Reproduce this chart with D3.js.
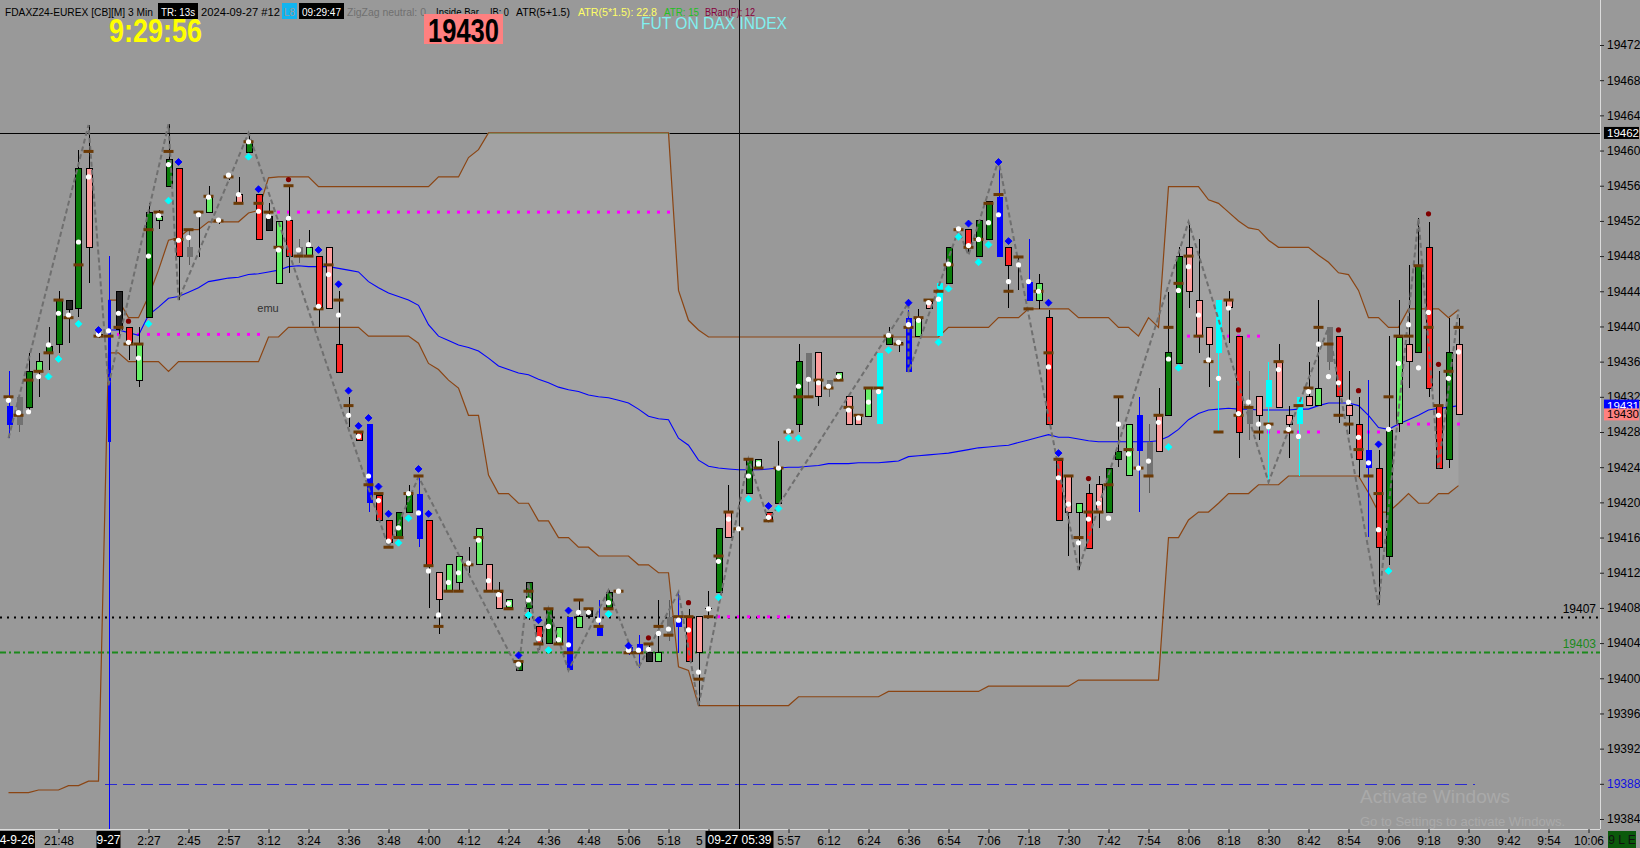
<!DOCTYPE html>
<html><head><meta charset="utf-8">
<script src="https://cdn.jsdelivr.net/npm/d3@7"></script>
<style>html,body{margin:0;padding:0;background:#999;overflow:hidden}svg{display:block}text{font-family:"Liberation Sans",Arial,sans-serif}</style>
</head><body><svg id="c" width="1640" height="848"></svg>
<script>
// ---- DATA ----
// bar kinds: U strong up, u weak up, D strong down, d weak down, k dark neutral, g gray neutral, b blue signal, c cyan signal, x doji
const kinds = "bgUuUUkUdx"+"bkDuUuUDgx"+"uxxdUDkuDg"+"uDdDxDbDDU"+"UbDduuxudd"+"uUUDUubukb"+"UxbbkugbDd"+"xUdxUuDUxU"+"gdgudducUx"+"budcUxDUUb"+"DxbuDDduDd"+"UUubgdUUdd"+"dcdDgdcddc"+"dugDdDbDUu"+"dUDDUd";
const opens = [19431.0,19432.0,19430.8,19434.9,19437.0,19438.0,19443.0,19442.0,19458.0,19439.1,
19443.0,19444.0,19439.9,19433.9,19441.0,19452.0,19455.9,19458.0,19449.0,19453.0,
19453.0,19452.0,19457.0,19455.0,19459.8,19455.0,19452.5,19444.9,19452.1,19449.0,
19448.1,19447.9,19449.0,19438.0,19431.0,19427.9,19428.9,19420.8,19417.9,19416.0,
19418.9,19421.0,19417.9,19412.0,19410.0,19410.9,19412.9,19412.9,19412.9,19409.8,
19408.1,19400.9,19407.9,19405.9,19403.9,19404.0,19407.0,19405.8,19407.8,19405.8,
19408.0,19409.9,19403.6,19403.9,19402.9,19401.9,19407.0,19406.9,19407.0,19407.0,
19408.0,19409.8,19418.9,19417.0,19421.0,19423.9,19418.8,19419.9,19428.0,19428.8,
19437.0,19437.0,19433.9,19433.9,19432.0,19429.7,19429.8,19428.9,19438.0,19438.2,
19441.0,19438.9,19442.8,19438.9,19444.9,19451.0,19451.0,19447.9,19449.9,19454.7,
19449.0,19447.9,19445.1,19442.9,19441.0,19424.8,19423.0,19418.9,19421.0,19422.0,
19418.9,19424.9,19423.0,19429.9,19426.9,19429.9,19429.9,19435.8,19449.0,19443.0,
19439.9,19437.0,19443.0,19438.9,19430.8,19432.0,19430.8,19436.0,19429.9,19428.9,
19432.0,19431.0,19439.9,19438.9,19431.0,19428.9,19426.0,19423.9,19413.9,19429.0,
19438.0,19437.0,19449.0,19431.0,19424.9,19438.0];
const highs = [19434.9,19432.0,19437.0,19437.0,19439.9,19444.0,19443.0,19460.1,19462.9,19439.6,
19448.0,19444.0,19439.9,19439.9,19454.0,19453.2,19463.0,19458.0,19451.0,19453.0,
19456.0,19452.2,19457.2,19457.0,19462.0,19455.0,19454.0,19451.9,19456.0,19449.9,
19451.0,19447.9,19449.0,19444.0,19432.0,19427.9,19428.9,19420.8,19417.9,19418.9,
19422.0,19422.9,19417.9,19412.0,19412.9,19413.9,19414.9,19417.0,19412.9,19410.9,
19408.9,19401.9,19410.9,19405.9,19407.9,19405.8,19407.0,19408.9,19407.8,19408.9,
19410.0,19410.2,19403.8,19404.9,19403.9,19408.9,19408.9,19409.8,19407.9,19407.0,
19409.9,19417.0,19422.0,19417.2,19424.9,19424.9,19418.8,19427.0,19428.2,19438.0,
19437.0,19437.0,19433.9,19434.8,19432.0,19429.7,19433.0,19437.0,19439.9,19438.2,
19441.9,19442.0,19443.0,19444.9,19449.0,19451.2,19451.0,19452.0,19454.2,19458.0,
19449.0,19447.9,19449.9,19446.0,19441.9,19424.8,19423.0,19419.9,19422.1,19423.0,
19423.9,19432.0,19428.9,19432.0,19428.9,19433.0,19443.9,19449.0,19451.5,19449.9,
19439.9,19443.0,19444.0,19438.9,19434.9,19432.0,19436.0,19438.0,19431.0,19432.0,
19436.0,19443.0,19439.9,19438.9,19434.9,19432.0,19433.9,19426.0,19438.9,19443.0,
19447.0,19452.3,19451.9,19434.9,19441.0,19441.0];
const lows = [19427.3,19428.0,19430.5,19432.0,19435.1,19437.0,19438.1,19441.1,19444.9,19438.7,
19382.6,19438.9,19436.2,19433.1,19441.0,19451.1,19455.9,19443.0,19447.0,19447.9,
19453.0,19451.7,19456.7,19454.0,19459.8,19449.9,19450.9,19444.9,19446.1,19447.2,
19448.0,19439.9,19442.0,19434.8,19428.6,19427.0,19418.9,19417.9,19414.9,19416.0,
19418.9,19414.9,19408.0,19405.0,19410.0,19409.8,19412.0,19412.9,19410.0,19407.9,
19408.1,19400.9,19406.6,19403.2,19403.9,19404.0,19400.9,19405.8,19407.0,19404.8,
19408.0,19409.7,19402.6,19401.2,19401.9,19401.9,19404.2,19402.9,19401.9,19396.9,
19407.0,19409.8,19416.0,19416.7,19421.0,19423.9,19417.9,19419.9,19427.8,19428.0,
19432.0,19431.0,19432.0,19433.9,19428.9,19428.9,19429.8,19428.9,19438.0,19437.1,
19434.8,19438.9,19442.0,19438.9,19444.9,19450.7,19448.4,19447.9,19449.9,19447.9,
19442.1,19444.1,19442.9,19442.0,19428.9,19417.9,19413.9,19412.3,19414.8,19417.1,
19418.9,19424.0,19423.0,19418.9,19421.1,19425.8,19429.9,19435.8,19442.1,19437.0,
19433.1,19428.0,19438.1,19425.0,19427.1,19427.1,19422.3,19430.8,19425.0,19423.0,
19431.0,19431.0,19435.1,19429.0,19427.8,19422.9,19416.1,19408.3,19412.9,19428.0,
19433.0,19437.0,19432.0,19423.9,19423.9,19429.9];
const closes = [19428.8,19428.8,19434.9,19436.0,19437.7,19443.0,19441.9,19458.0,19449.0,19439.0,
19426.9,19439.6,19438.2,19437.9,19453.0,19452.5,19459.0,19447.9,19447.9,19452.9,
19454.7,19451.9,19456.9,19454.0,19461.0,19449.9,19450.9,19451.9,19447.9,19448.1,
19449.0,19442.1,19442.0,19434.8,19430.8,19427.0,19419.9,19417.9,19415.4,19418.9,
19421.1,19415.8,19412.8,19408.9,19412.9,19413.9,19412.8,19417.0,19410.0,19407.9,
19408.9,19401.9,19410.9,19403.9,19407.9,19405.8,19400.9,19407.0,19407.0,19404.8,
19409.8,19409.8,19402.9,19402.9,19401.9,19402.9,19404.9,19405.8,19401.9,19402.9,
19407.9,19417.0,19416.0,19416.9,19424.9,19424.9,19417.9,19423.9,19427.9,19436.0,
19433.9,19432.0,19433.0,19434.8,19428.9,19428.9,19433.0,19437.0,19438.8,19438.1,
19434.8,19441.0,19442.0,19444.9,19449.0,19450.9,19449.0,19452.0,19454.2,19447.9,
19446.9,19447.8,19442.9,19444.9,19428.9,19417.9,19418.9,19419.9,19414.8,19418.9,
19423.9,19425.8,19428.9,19425.8,19423.0,19425.8,19437.0,19448.0,19444.0,19438.9,
19438.0,19443.0,19442.2,19428.0,19428.9,19429.9,19433.9,19430.8,19428.9,19432.0,
19431.0,19433.0,19436.0,19432.0,19429.9,19424.9,19423.9,19414.9,19428.2,19438.8,
19436.0,19446.8,19433.0,19423.9,19437.0,19430.0];
const levelMarks = [19432.0,19429.9,19433.9,19434.9,19437.0,19443.0,19441.0,19447.0,19459.9,19438.9,
19438.9,19439.9,19438.0,19438.0,19451.0,19453.0,19459.9,19449.9,19451.0,19453.0,
19454.8,19452.0,19457.0,19454.0,19461.0,19454.0,19453.0,19449.0,19456.0,19448.0,
19448.0,19442.0,19447.0,19443.0,19431.0,19428.0,19422.0,19421.0,19414.9,19416.0,
19421.0,19423.0,19412.8,19405.9,19409.9,19409.9,19412.9,19416.0,19409.9,19409.9,
19407.9,19401.9,19409.9,19403.9,19407.9,19403.9,19402.9,19408.9,19407.9,19405.9,
19407.9,19409.9,19402.9,19402.9,19403.9,19405.9,19404.9,19407.0,19407.0,19399.9,
19407.0,19413.9,19418.9,19417.0,19424.9,19423.9,19417.9,19423.9,19428.0,19432.0,
19432.0,19433.9,19433.0,19433.9,19430.8,19429.9,19433.0,19433.0,19438.9,19438.0,
19439.9,19441.0,19443.0,19444.0,19447.0,19451.0,19449.0,19449.9,19454.0,19455.0,
19444.0,19447.9,19442.0,19444.0,19437.0,19424.9,19423.0,19416.0,19418.9,19418.9,
19422.0,19432.0,19426.0,19423.9,19423.0,19429.9,19439.9,19444.9,19448.0,19438.9,
19436.0,19428.0,19443.0,19429.9,19430.8,19428.0,19428.9,19436.0,19428.0,19431.0,
19433.0,19439.9,19438.0,19429.9,19428.9,19426.0,19423.0,19421.0,19432.0,19438.9,
19438.9,19446.9,19439.9,19431.0,19434.9,19439.9];
const whiteMarks = [19431.6,19430.2,19430.3,19434.3,19437.9,19441.5,19441.3,19449.6,19457.0,19439.1,
19439.5,19441.5,19438.2,19436.4,19448.0,19452.6,19458.4,19449.8,19450.1,19452.7,
19454.7,19452.1,19457.2,19455.0,19461.0,19453.1,19452.5,19448.7,19452.3,19448.7,
19449.3,19442.3,19445.9,19441.3,19429.9,19427.5,19423.0,19420.2,19415.6,19417.1,
19421.0,19418.8,19412.2,19407.2,19410.9,19412.0,19413.1,19415.7,19411.1,19409.5,
19408.5,19401.6,19408.9,19404.5,19405.9,19404.4,19403.8,19407.5,19407.5,19406.6,
19408.6,19409.9,19403.2,19403.2,19403.3,19405.1,19405.6,19406.6,19405.5,19400.7,
19407.9,19413.3,19418.1,19417.0,19423.0,19424.4,19418.3,19423.9,19428.1,19433.2,
19434.0,19433.6,19433.2,19434.3,19430.5,19429.6,19431.4,19432.6,19439.0,19438.2,
19440.2,19440.7,19442.7,19443.1,19447.1,19451.1,19449.2,19449.9,19451.8,19452.7,
19445.1,19447.0,19445.1,19444.0,19435.4,19422.8,19419.8,19415.4,19418.1,19419.9,
19418.2,19428.9,19425.5,19423.9,19424.7,19429.1,19436.3,19444.1,19446.8,19441.3,
19436.2,19434.1,19442.1,19430.1,19431.4,19428.9,19428.6,19435.1,19428.3,19427.5,
19432.6,19438.0,19434.3,19433.6,19431.4,19427.4,19424.5,19416.9,19428.3,19435.8,
19440.2,19435.3,19441.6,19429.9,19434.1,19437.1];
const ema = [null,null,null,null,null,null,null,null,null,null,
19439.6,19439.6,19439.3,19439.0,19441.3,19442.2,19443.2,19443.4,19443.9,19444.4,
19445.1,19445.3,19445.5,19445.6,19445.9,19446.0,19446.2,19446.4,19446.8,19446.9,
19446.8,19446.8,19446.8,19446.6,19446.4,19446.2,19445.1,19444.4,19443.8,19443.4,
19443.0,19442.4,19440.2,19438.9,19438.4,19437.9,19437.6,19437.2,19436.4,19435.5,
19435.1,19434.7,19434.5,19434.0,19433.6,19433.1,19432.8,19432.6,19432.2,19432.0,
19431.9,19431.6,19431.3,19430.6,19429.8,19429.5,19429.4,19427.3,19426.5,19424.8,
19424.1,19423.9,19423.8,19423.7,19423.7,19423.7,19423.8,19423.9,19424.0,19424.0,
19424.1,19424.2,19424.4,19424.4,19424.4,19424.5,19424.5,19424.5,19424.6,19424.7,
19425.2,19425.3,19425.4,19425.5,19425.6,19425.8,19426.0,19426.2,19426.3,19426.4,
19426.5,19426.8,19427.1,19427.4,19427.7,19427.4,19427.4,19427.2,19427.0,19426.9,
19426.9,19426.9,19426.9,19426.9,19426.9,19427.0,19427.5,19428.3,19429.4,19430.1,
19430.5,19430.6,19430.7,19430.6,19430.6,19430.5,19430.5,19430.5,19430.5,19430.6,
19430.6,19431.0,19431.3,19431.3,19431.3,19431.0,19429.9,19428.5,19428.3,19428.9,
19429.4,19429.9,19430.5,19430.7,19430.8,19431.0];
const upperBand = [null,null,null,null,null,null,null,null,null,null,
19443.0,19443.0,19441.0,19441.0,19443.4,19446.4,19449.8,19450.1,19451.0,19451.0,
19451.9,19451.9,19451.9,19451.9,19452.9,19453.2,19456.9,19457.0,19457.0,19457.0,
19457.0,19455.9,19455.9,19455.9,19455.9,19455.9,19455.9,19455.9,19455.9,19455.9,
19455.9,19455.9,19455.9,19457.0,19457.0,19457.0,19459.2,19460.1,19462.0,19462.0,
19462.0,19462.0,19462.0,19462.0,19462.0,19462.0,19462.0,19462.0,19462.0,19462.0,
19462.0,19462.0,19462.0,19462.0,19462.0,19462.0,19462.0,19444.1,19440.7,19439.6,
19438.8,19438.8,19438.8,19438.8,19438.8,19438.8,19438.8,19438.8,19438.8,19438.8,
19438.8,19438.8,19438.8,19438.8,19438.8,19438.8,19438.8,19438.8,19438.8,19438.8,
19438.8,19438.8,19438.8,19438.8,19439.9,19439.9,19439.9,19439.9,19439.9,19441.0,
19441.0,19441.0,19442.0,19442.0,19442.0,19442.0,19442.0,19441.0,19441.0,19441.0,
19441.0,19439.9,19439.9,19438.9,19441.0,19439.9,19455.9,19455.9,19455.9,19455.9,
19454.4,19454.0,19453.0,19452.0,19451.2,19451.0,19449.8,19449.0,19449.0,19449.0,
19449.0,19448.1,19447.3,19446.1,19445.9,19444.1,19441.0,19441.0,19439.9,19439.9,
19442.0,19442.0,19442.0,19442.0,19441.0,19441.9];
const lowerBand = [19387.0,19387.0,19387.0,19387.3,19387.3,19387.3,19387.8,19387.8,19388.3,19388.3,
19437.0,19437.0,19436.0,19436.0,19436.0,19436.0,19434.9,19436.0,19436.0,19436.0,
19436.0,19436.0,19436.0,19436.0,19436.0,19436.0,19438.8,19438.8,19439.9,19439.9,
19439.9,19439.9,19439.9,19439.9,19439.9,19439.9,19438.9,19438.9,19438.9,19438.9,
19438.9,19438.1,19435.8,19435.1,19433.9,19433.0,19429.9,19429.9,19423.1,19421.0,
19421.0,19419.9,19419.9,19417.9,19417.9,19416.0,19416.0,19414.9,19414.9,19413.9,
19413.9,19413.9,19413.9,19412.9,19412.9,19412.0,19412.0,19401.3,19400.9,19396.9,
19396.9,19396.9,19396.9,19396.9,19396.9,19396.9,19396.9,19396.9,19396.9,19397.9,
19397.9,19397.9,19397.9,19397.9,19397.9,19397.9,19397.9,19397.9,19398.5,19398.5,
19398.5,19398.5,19398.5,19398.5,19398.5,19398.5,19398.5,19398.5,19399.1,19399.1,
19399.1,19399.1,19399.1,19399.1,19399.1,19399.1,19399.1,19399.8,19399.8,19399.8,
19399.8,19399.8,19399.8,19399.8,19399.8,19399.8,19416.0,19416.0,19418.0,19418.9,
19418.9,19419.9,19421.0,19421.0,19421.0,19422.0,19422.0,19422.0,19423.0,19423.0,
19423.0,19423.0,19423.0,19423.0,19423.0,19423.0,19421.1,19418.9,19418.9,19419.9,
19421.0,19419.9,19419.9,19421.0,19421.0,19421.9];
const zigzag = [[0,19427.3],[8,19462.9],[10,19433.3],[16,19463.0],[17,19443.0],[24,19462.0],[38,19414.9],[41,19422.9],
[51,19400.9],[52,19410.9],[53,19402.9],[54,19407.9],[56,19400.9],[60,19410.0],[63,19401.2],[67,19409.8],[69,19396.9],
[74,19424.9],[76,19417.9],[90,19442.7],[90,19434.8],[95,19451.0],[96,19448.1],[99,19458.9],[107,19412.3],[118,19451.9],
[126,19422.3],[132,19439.9],[137,19408.3],[141,19452.3],[143,19423.9],[145,19441.9]];
const cyanMarks = [[4,19434.3],[5,19436.3],[7,19440.3],[14,19440.3],[16,19454.3],[24,19459.3],[39,19415.4],[40,19418.2],
[52,19407.2],[54,19403.2],[60,19407.3],[71,19409.2],[74,19420.4],[77,19419.3],[78,19427.3],[79,19427.3],[88,19437.3],
[93,19438.2],[94,19444.3],[95,19450.2],[97,19447.3],[98,19449.3],[116,19426.3],[117,19435.3],[138,19412.2]];
const blueMarks = [[9,19439.6],[17,19458.7],[25,19455.6],[31,19448.7],[33,19444.8],[34,19432.7],[35,19428.7],[36,19429.6],
[37,19421.8],[38,19418.7],[41,19423.8],[42,19418.7],[51,19402.6],[53,19406.6],[56,19407.7],[62,19403.7],[76,19419.6],
[90,19442.7],[96,19451.7],[99,19458.7],[100,19449.7],[104,19442.7],[105,19425.6],[137,19426.6]];
const redMarks = [[12,19440.6],[28,19456.7],[64,19404.6],[68,19408.6],[108,19422.7],[123,19439.6],[133,19439.6],[135,19432.7],[142,19452.8],[143,19435.7]];
const magentaLevels = [[19453.0,27,66],[19439.1,11,25],[19438.9,117,125],[19428.0,126,131],[19428.0,135,138],[19428.9,139,145],[19407.0,71,78]];
const priceTicks = d3.range(19384, 19473, 4);
const timeLabels = [[5,"21:48"],[14,"2:27"],[18,"2:45"],[22,"2:57"],[26,"3:12"],[30,"3:24"],[34,"3:36"],[38,"3:48"],[42,"4:00"],
[46,"4:12"],[50,"4:24"],[54,"4:36"],[58,"4:48"],[62,"5:06"],[66,"5:18"],[70,"5"],[78,"5:57"],[82,"6:12"],[86,"6:24"],
[90,"6:36"],[94,"6:54"],[98,"7:06"],[102,"7:18"],[106,"7:30"],[110,"7:42"],[114,"7:54"],[118,"8:06"],[122,"8:18"],[126,"8:30"],
[130,"8:42"],[134,"8:54"],[138,"9:06"],[142,"9:18"],[146,"9:30"],[150,"9:42"],[154,"9:54"],[158,"10:06"]];
const dateLabels = [[1,"4-9-26"],[10,"9-27"]];
const crossBar = 73, crossLabel = "09-27  05:39";
const highLine = 19462, pivotLine = 19407, supportLine = 19403, lowLine = 19388;
const lastPrice = 19430, emaPrice = 19431;

// ---- CHART ----
const W=1640,H=848,PR=1600,PB=829;
const x = d3.scaleLinear().domain([-0.85,159.15]).range([0,1600]);
const y = d3.scaleLinear().domain([19472,19384]).range([45,819]);
const svg = d3.select('#c');
svg.append('rect').attr('width',W).attr('height',H).attr('fill','#999999');
svg.append('defs').append('clipPath').attr('id','plot').append('rect').attr('width',PR).attr('height',PB);
const g = svg.append('g').attr('clip-path','url(#plot)');
const idx = d3.range(kinds.length);

// band fill
g.append('path').datum(idx.filter(i=>upperBand[i]!=null))
 .attr('d', d3.area().x(i=>x(i)).y0(i=>y(lowerBand[i])).y1(i=>y(upperBand[i])))
 .attr('fill','#a2a2a2');

// horizontal levels
const hline=(p,x0,x1,col,w,dash)=>g.append('line').attr('x1',x0).attr('x2',x1).attr('y1',Math.round(y(p))+0.5).attr('y2',Math.round(y(p))+0.5)
  .attr('stroke',col).attr('stroke-width',w).attr('stroke-dasharray',dash||null);
hline(highLine,0,PR,'#000',1);
hline(highLine,x(47.9),x(66.1),'#6cc8a8',1);
hline(pivotLine,0,PR,'#000',2,'2 5');
hline(supportLine,0,PR,'#1b8a1b',2,'6 3 2 3');
hline(lowLine,x(9.65),x(146.65),'#2a2ad0',1,'12 6');
g.append('text').attr('x',1596).attr('y',y(pivotLine)-4).attr('text-anchor','end').attr('font-size',12).attr('fill','#000').text(pivotLine);
g.append('text').attr('x',1596).attr('y',y(supportLine)-4).attr('text-anchor','end').attr('font-size',12).attr('fill','#1b8a1b').text(supportLine);

// magenta dotted levels
magentaLevels.forEach(([p,a,b])=>{
  g.selectAll(null).data(d3.range(a,b+1)).join('rect')
   .attr('x',i=>x(i)-1.5).attr('y',y(p)-1.5).attr('width',3).attr('height',3).attr('fill','#ff00ff');
});

// bands & ema
const lineGen = arr => d3.line().defined(i=>arr[i]!=null).x(i=>x(i)).y(i=>y(arr[i]));
g.append('path').datum(idx).attr('d',lineGen(upperBand)).attr('fill','none').attr('stroke','#8b4513').attr('stroke-width',1.2);
g.append('path').datum(idx).attr('d',lineGen(lowerBand)).attr('fill','none').attr('stroke','#8b4513').attr('stroke-width',1.2);
g.append('path').datum(idx).attr('d',lineGen(ema)).attr('fill','none').attr('stroke','#0000ff').attr('stroke-width',1.1);

// crosshair
g.append('line').attr('x1',Math.round(x(crossBar))+0.5).attr('x2',Math.round(x(crossBar))+0.5).attr('y1',0).attr('y2',PB).attr('stroke','#111').attr('stroke-width',1);

// candles
const bodyCol={U:'#0b7d0b',u:'#66ee66',D:'#ff2424',d:'#ff9c9c',k:'#232323',g:'#727272',b:'#0000ff',c:'#00ffff',x:'#000'};
const wickCol={b:'#0000ff',c:'#00ffff',g:'#5a5a5a'};
const outlined=new Set(['U','u','D','d','k']);
const cg=g.append('g').attr('shape-rendering','crispEdges');
idx.forEach(i=>{
  const k=kinds[i], cx=Math.round(x(i))+0.5;
  cg.append('line').attr('x1',cx).attr('x2',cx).attr('y1',y(highs[i])).attr('y2',y(lows[i])).attr('stroke',wickCol[k]||'#000').attr('stroke-width',1);
  if(k==='x'){
    cg.append('line').attr('x1',cx-3.5).attr('x2',cx+3.5).attr('y1',Math.round(y(opens[i]))+0.5).attr('y2',Math.round(y(opens[i]))+0.5).attr('stroke','#000');
    return;
  }
  const top=y(Math.max(opens[i],closes[i])), bot=y(Math.min(opens[i],closes[i]));
  const narrow = lows[i] < lowLine; // session-open bar drawn as a thin bar
  cg.append('rect').attr('x',narrow?cx-1.5:cx-3).attr('y',top).attr('width',narrow?3:6).attr('height',Math.max(1.5,bot-top))
    .attr('fill',bodyCol[k]).attr('stroke',outlined.has(k)?'#000':'none').attr('stroke-width',1);
});

// zigzag
g.append('path').datum(zigzag).attr('d',d3.line().x(d=>x(d[0])).y(d=>y(d[1])))
 .attr('fill','none').attr('stroke','#6f6f6f').attr('stroke-width',2).attr('stroke-dasharray','5 3');

// level dashes (brown)
g.selectAll(null).data(idx).join('rect').attr('x',i=>x(i)-5).attr('y',i=>y(levelMarks[i])-1.5).attr('width',10).attr('height',3).attr('fill','#6b3a06');
// white dots
g.selectAll(null).data(idx).join('circle').attr('cx',i=>x(i)).attr('cy',i=>y(whiteMarks[i])).attr('r',2.6).attr('fill','#fff');
// diamonds
const diamond=d3.symbol().type(d3.symbolDiamond2).size(30);
g.selectAll(null).data(cyanMarks).join('path').attr('d',diamond).attr('transform',d=>`translate(${x(d[0])},${y(d[1])})`).attr('fill','#00ffff').attr('stroke','#00ffff').attr('stroke-width',1).attr('stroke-linejoin','round');
g.selectAll(null).data(blueMarks).join('path').attr('d',diamond).attr('transform',d=>`translate(${x(d[0])},${y(d[1])})`).attr('fill','#0000ff').attr('stroke','#0000ff').attr('stroke-width',1).attr('stroke-linejoin','round');
g.selectAll(null).data(redMarks).join('circle').attr('cx',d=>x(d[0])).attr('cy',d=>y(d[1])).attr('r',2.6).attr('fill','#800000');

// emu label
g.append('text').attr('x',268).attr('y',312).attr('text-anchor','middle').attr('font-size',11).attr('fill','#333').text('emu');

// watermark
g.append('text').attr('x',1360).attr('y',803).attr('font-size',19).attr('fill','#a9a9a9').text('Activate Windows');
g.append('text').attr('x',1360).attr('y',826).attr('font-size',13).attr('fill','#a9a9a9').text('Go to Settings to activate Windows.');

// right axis
const ra=svg.append('g').attr('transform',`translate(${PR},0)`).call(d3.axisRight(y).tickValues(priceTicks).tickSize(4).tickPadding(3).tickFormat(d3.format('d')));
ra.select('.domain').attr('stroke','#dcdcdc').attr('d',`M0.5,0V${PB}`);
ra.selectAll('.tick line').attr('stroke','#222');
ra.selectAll('.tick text').attr('font-size',12).attr('fill',d=>d===lowLine?'#1010e0':'#000').attr('font-family','"Liberation Sans",Arial,sans-serif');
const tag=(p,bg,fg)=>{const yy=y(p);svg.append('rect').attr('x',1604).attr('y',yy-6).attr('width',35).attr('height',12).attr('fill',bg);
 svg.append('text').attr('x',1607).attr('y',yy+4).attr('font-size',11).attr('fill',fg).attr('textLength',32).attr('lengthAdjust','spacingAndGlyphs').text(p);};
tag(highLine,'#000','#fff');
tag(emaPrice,'#0000ff','#fff');
tag(lastPrice,'#ff8080','#000');

// bottom axis
const ba=svg.append('g').attr('transform',`translate(0,${PB})`).call(d3.axisBottom(x).tickValues(timeLabels.map(d=>d[0])).tickSize(4).tickPadding(3).tickFormat(v=>timeLabels.find(d=>d[0]===v)[1]));
ba.select('.domain').attr('stroke','#dcdcdc').attr('d',`M0,0.5H${PR}`);
ba.selectAll('.tick line').attr('stroke','#222');
ba.selectAll('.tick text').attr('font-size',12).attr('fill','#000').attr('font-family','"Liberation Sans",Arial,sans-serif');
ba.selectAll('.tick text').filter(v=>v===70).attr('text-anchor','start').attr('dx',-13);
const boxLabel=(cx,w,txt,bg,fg)=>{svg.append('rect').attr('x',cx-w/2).attr('y',831).attr('width',w).attr('height',17).attr('fill',bg);
 svg.append('text').attr('x',cx).attr('y',844).attr('text-anchor','middle').attr('font-size',12).attr('fill',fg).text(txt);};
boxLabel(17,36,dateLabels[0][1],'#000','#fff');
boxLabel(x(dateLabels[1][0]),24,dateLabels[1][1],'#000','#fff');
boxLabel(x(crossBar)+1,68,crossLabel,'#000','#fff');
boxLabel(1622,28,'9 L E','#0b5a0b','#111');

// header
const hdr=[
 {t:'FDAXZ24-EUREX [CB][M] 3 Min',x:5,w:148,c:'#000'},
 {t:'TR: 13s',x:161,w:34,c:'#fff',bg:'#000',bx:158,bw:40},
 {t:'2024-09-27 #12',x:201,w:79,c:'#000'},
 {t:'L8',x:284,w:11,c:'#9a9a9a',bg:'#10b4f0',bx:282,bw:15},
 {t:'09:29:47',x:302,w:39,c:'#fff',bg:'#000',bx:299,bw:45},
 {t:'ZigZag neutral: 0',x:347,w:79,c:'#707070'},
 {t:'Inside Bar',x:436,w:43,c:'#000'},
 {t:'IB: 0',x:490,w:19,c:'#000'},
 {t:'ATR(5+1.5)',x:516,w:54,c:'#000'},
 {t:'ATR(5*1.5): 22.8',x:578,w:79,c:'#ffff66'},
 {t:'ATR: 15',x:664,w:35,c:'#22c022'},
 {t:'BRan(P): 12',x:705,w:50,c:'#86003c'}];
hdr.forEach(h=>{
  if(h.bg) svg.append('rect').attr('x',h.bx).attr('y',3).attr('width',h.bw).attr('height',16).attr('fill',h.bg);
  svg.append('text').attr('x',h.x).attr('y',15.5).attr('font-size',10).attr('fill',h.c)
   .attr('textLength',h.w).attr('lengthAdjust','spacingAndGlyphs').text(h.t);
});
svg.append('text').attr('x',109).attr('y',42).attr('font-size',33).attr('font-weight','bold').attr('fill','#ffff00')
  .attr('textLength',93).attr('lengthAdjust','spacingAndGlyphs').text('9:29:56');
svg.append('rect').attr('x',424).attr('y',14).attr('width',79).attr('height',30).attr('fill','#ff8080');
svg.append('text').attr('x',428).attr('y',42).attr('font-size',33).attr('font-weight','bold').attr('fill','#000')
  .attr('textLength',71).attr('lengthAdjust','spacingAndGlyphs').text(lastPrice);
svg.append('text').attr('x',641).attr('y',29).attr('font-size',17).attr('fill','#80f0f0')
  .attr('textLength',146).attr('lengthAdjust','spacingAndGlyphs').text('FUT ON DAX INDEX');
</script></body></html>
